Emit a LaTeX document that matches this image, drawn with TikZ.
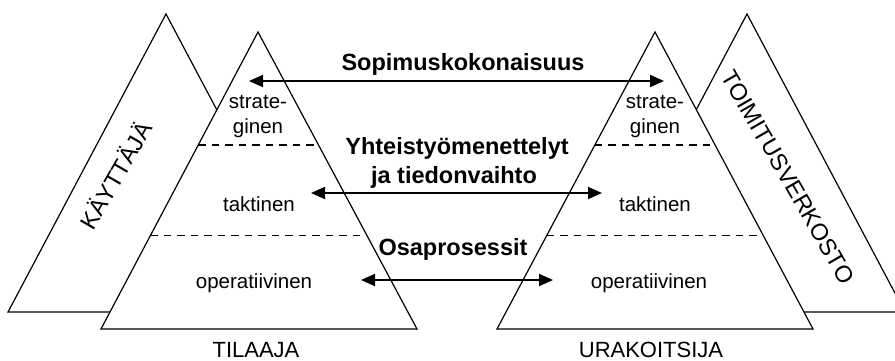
\documentclass[tikz,border=0pt]{standalone}
\usepackage{fontspec}
\setmainfont{Liberation Sans}
\usetikzlibrary{arrows.meta,calc}
\begin{document}
\begin{tikzpicture}[x=1pt,y=-1pt,
  tri/.style={draw=black,line width=1.2pt,line join=miter,fill=white},
  level/.style={dash pattern=on 7.5pt off 6pt,line width=1.3pt},
  link/.style={line width=1.8pt,{Triangle[length=14pt,width=12pt]}-{Triangle[length=14pt,width=12pt]}},
  lvl/.style={font=\fontsize{20.5}{24}\selectfont,anchor=base,inner sep=0pt},
  head/.style={font=\fontsize{23.5}{28}\selectfont\bfseries,anchor=base,inner sep=0pt},
  party/.style={font=\fontsize{22}{26}\selectfont,anchor=base,inner sep=0pt},
  side/.style={font=\fontsize{23.5}{28}\selectfont,inner sep=0pt}]
\useasboundingbox (0,0) rectangle (895,361);

% back pyramids: user and supply network
\draw[tri] (166,14) -- (8,312) -- (324,312) -- cycle;
\draw[tri] (747,14) -- (589,312) -- (905,312) -- cycle;

% front pyramids: client and contractor
\coordinate (cA) at (258,32);
\coordinate (cL) at (101,329);
\coordinate (cR) at (417,329);
\draw[tri] (cA) -- (cL) -- (cR) -- cycle;

\coordinate (uA) at (655,32);
\coordinate (uL) at (497,329);
\coordinate (uR) at (813,329);
\draw[tri] (uA) -- (uL) -- (uR) -- cycle;

% level boundaries
\foreach \p in {c,u}{
  \draw[level] ($(\p A)!0.38!(\p L)$) -- ($(\p A)!0.38!(\p R)$);
  \draw[level] ($(\p A)!0.686!(\p L)$) -- ($(\p A)!0.686!(\p R)$);
}

% level names
\node[lvl] (cS1) at (258,108) {strate-};
\node[lvl] (cS2) at (258,133) {ginen};
\node[lvl] (cT)  at (259,211) {taktinen};
\node[lvl] (cO)  at (254,288) {operatiivinen};
\node[lvl] (uS1) at (655,108) {strate-};
\node[lvl] (uS2) at (655,133) {ginen};
\node[lvl] (uT)  at (655,211) {taktinen};
\node[lvl] (uO)  at (649,288) {operatiivinen};

% party names
\node[party] (client) at (256,357) {TILAAJA};
\node[party] (contractor) at (651,357) {URAKOITSIJA};
\node[side,rotate=60] (user) at (115,175) {KÄYTTÄJÄ};
\node[side,rotate=-60] (network) at (788,177) {TOIMITUSVERKOSTO};

% interaction headings
\node[head] (contract) at (463,71) {Sopimuskokonaisuus};
\node[head] (coop1) at (457,154) {Yhteistyömenettelyt};
\node[head] (coop2) at (454,183) {ja tiedonvaihto};
\node[head] (proc) at (453,255) {Osaprosessit};

% interaction arrows
\coordinate (a1L) at (249,81);
\coordinate (a1R) at (664,81);
\coordinate (a2L) at (311,193);
\coordinate (a2R) at (602,193);
\coordinate (a3L) at (361,280);
\coordinate (a3R) at (553,280);
\draw[link] (a1L) -- (a1R);
\draw[link] (a2L) -- (a2R);
\draw[link] (a3L) -- (a3R);
\end{tikzpicture}
\end{document}
